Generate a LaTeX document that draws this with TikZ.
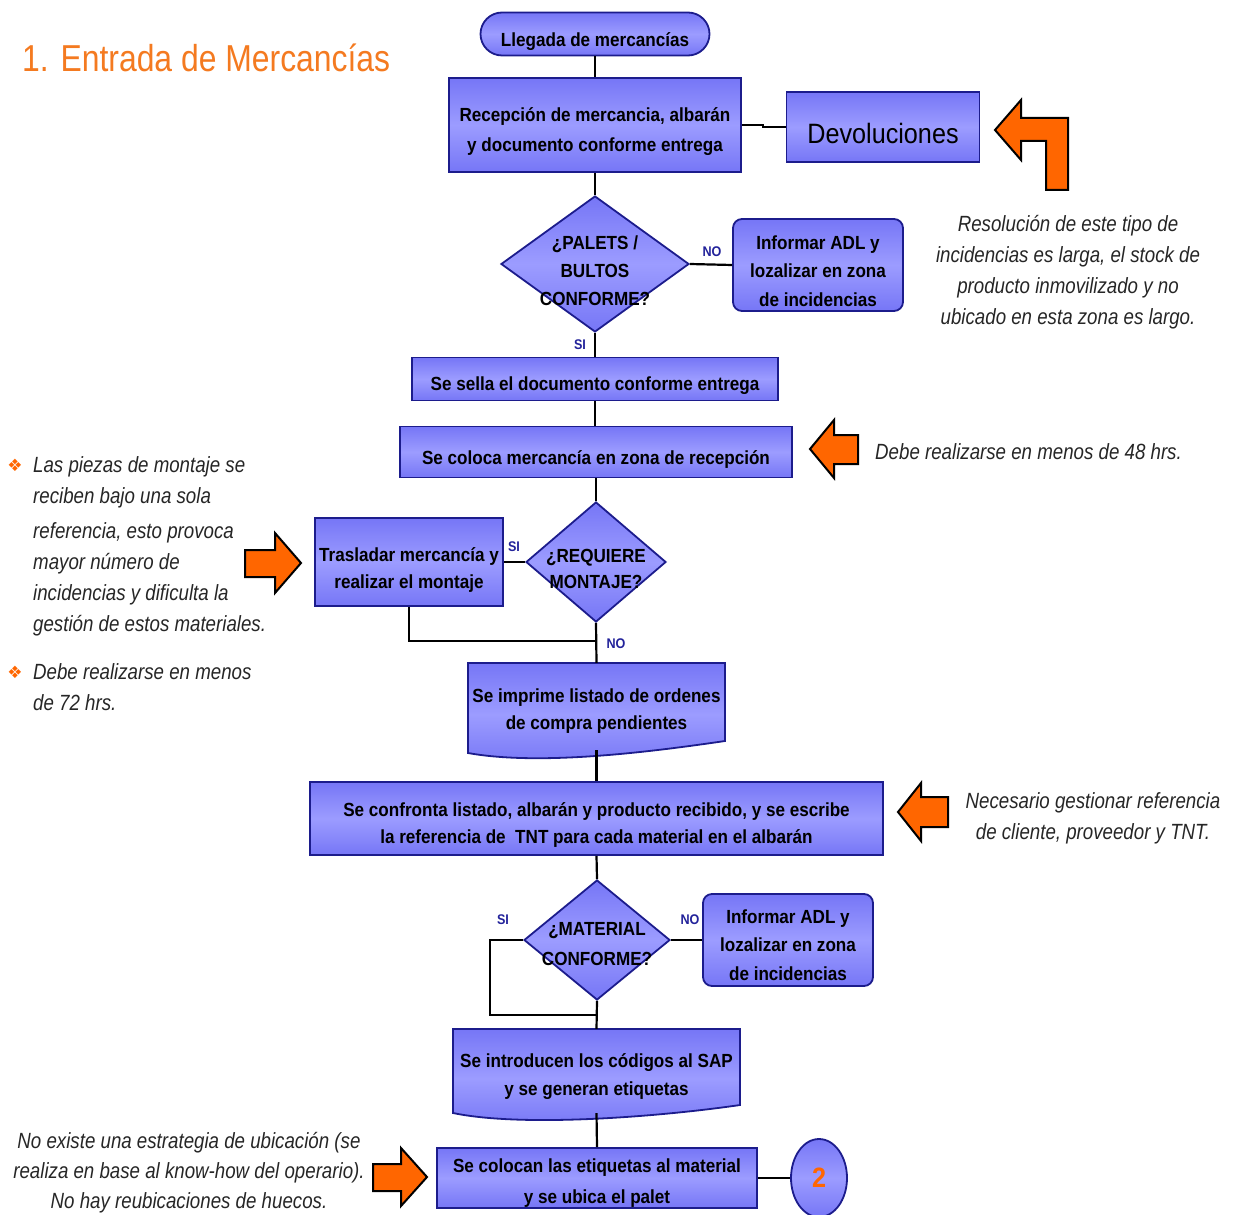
\documentclass[tikz,border=0pt]{standalone}
\usepackage{fontspec}
\setmainfont[FakeStretch=0.85]{Liberation Sans}
\newfontfamily\boxf[FakeStretch=0.9]{Liberation Sans}
\newfontfamily\symfont{DejaVu Sans}
\usetikzlibrary{shapes.geometric}
\definecolor{boxlight}{HTML}{9C9CFF}
\definecolor{boxdark}{HTML}{7676F6}
\definecolor{boxline}{HTML}{1C1C8C}
\definecolor{lblblue}{HTML}{22229A}
\definecolor{orng}{HTML}{FF6600}
\definecolor{titleor}{HTML}{F47A20}
\definecolor{notegray}{HTML}{262626}
\begin{document}
\begin{tikzpicture}[x=1pt,y=-1pt,
  flow/.style={draw=boxline, line width=1.8pt, top color=boxdark, bottom color=boxdark, middle color=boxlight, inner sep=0pt},
  dec/.style={flow, shape=diamond},
  txt/.style={font=\boxf\bfseries\fontsize{19}{29}\selectfont, align=center, inner sep=0pt},
  conn/.style={line width=2.2pt, black},
  lbl/.style={font=\boxf\bfseries\fontsize{14}{14}\selectfont, text=lblblue, inner sep=0pt},
  note/.style={font=\itshape\fontsize{22}{31}\selectfont, text=notegray, inner sep=0pt},
  warn/.style={fill=orng, draw=black, line width=2pt, line join=miter}]
\useasboundingbox (0,0) rectangle (1238,1214);

% title
\node[anchor=west, font=\fontsize{37.5}{37.5}\selectfont, text=titleor, inner sep=0pt] (title) at (22,58) {1. Entrada de Mercancías};

% document shapes
\path[flow] (468,663) -- (725,663) -- (725,741) .. controls (650,752) and (540,766) .. (468,753) -- cycle;
\path[flow] (453,1029) -- (740,1029) -- (740,1105) .. controls (665,1116) and (525,1128) .. (453,1113) -- cycle;

% shapes
\node[flow, minimum width=229, minimum height=43, rounded corners=21.5] (term) at (595,34) {};
\node[flow, minimum width=292, minimum height=94] (rec) at (595,125) {};
\node[flow, minimum width=193, minimum height=70] (dev) at (883,127) {};
\node[dec, minimum width=188, minimum height=136] (d1) at (595,264) {};
\node[flow, minimum width=170, minimum height=92, rounded corners=9] (inf1) at (818,265) {};
\node[flow, minimum width=366, minimum height=43] (sella) at (595,379) {};
\node[flow, minimum width=392, minimum height=51] (col) at (596,452) {};
\node[dec, minimum width=140, minimum height=120] (d2) at (596,562) {};
\node[flow, minimum width=188, minimum height=88] (tras) at (409,562) {};
\node[inner sep=0pt, minimum width=257, minimum height=87] (imp) at (596.5,706.5) {};
\node[flow, minimum width=573, minimum height=73] (conf) at (596.5,818.5) {};
\node[dec, minimum width=146, minimum height=120] (d3) at (597,940) {};
\node[flow, minimum width=170, minimum height=92, rounded corners=9] (inf2) at (788,940) {};
\node[inner sep=0pt, minimum width=287, minimum height=84] (sap) at (596.5,1071) {};
\node[flow, minimum width=320, minimum height=60] (colo) at (597,1178) {};
\node[flow, shape=ellipse, minimum width=56, minimum height=78, font=\boxf\bfseries\fontsize{28}{28}\selectfont, text=orng] (two) at (819,1178) {2};

% texts of the shapes
\node[txt, font=\boxf\bfseries\fontsize{19}{19}\selectfont] (term-t) at (595,42) {Llegada de mercancías};
\node[txt, font=\boxf\bfseries\fontsize{19}{30}\selectfont] (rec-t) at (595,132) {Recepción de mercancia, albarán\\y documento conforme entrega};
\node[txt, font=\boxf\fontsize{28}{28}\selectfont] (dev-t) at (883,133) {Devoluciones};
\node[txt, font=\boxf\bfseries\fontsize{19}{28}\selectfont] (d1-t) at (595,271) {¿PALETS /\\BULTOS\\CONFORME?};
\node[txt, font=\boxf\bfseries\fontsize{19}{28.5}\selectfont] (inf1-t) at (818,271) {Informar ADL y\\lozalizar en zona\\de incidencias};
\node[txt] (sella-t) at (595,386) {Se sella el documento conforme entrega};
\node[txt] (col-t) at (596,460) {Se coloca mercancía en zona de recepción};
\node[txt, font=\boxf\bfseries\fontsize{19}{26}\selectfont] (d2-t) at (596,569) {¿REQUIERE\\MONTAJE?};
\node[txt, font=\boxf\bfseries\fontsize{19}{27}\selectfont] (tras-t) at (409,570) {Trasladar mercancía y\\realizar el montaje};
\node[txt, font=\boxf\bfseries\fontsize{19}{27}\selectfont] (imp-t) at (596.5,711.5) {Se imprime listado de ordenes\\de compra pendientes};
\node[txt, font=\boxf\bfseries\fontsize{19}{27}\selectfont] (conf-t) at (596.5,824.5) {Se confronta listado, albarán y producto recibido, y se escribe\\la referencia de \ TNT para cada material en el albarán};
\node[txt, font=\boxf\bfseries\fontsize{19}{30}\selectfont] (d3-t) at (597,944) {¿MATERIAL\\CONFORME?};
\node[txt, font=\boxf\bfseries\fontsize{19}{28.5}\selectfont] (inf2-t) at (788,945) {Informar ADL y\\lozalizar en zona\\de incidencias};
\node[txt, font=\boxf\bfseries\fontsize{19}{28}\selectfont] (sap-t) at (596.5,1077) {Se introducen los códigos al SAP\\y se generan etiquetas};
\node[txt, font=\boxf\bfseries\fontsize{19}{31}\selectfont] (colo-t) at (597,1183) {Se colocan las etiquetas al material\\y se ubica el palet};

% connectors
\coordinate (j1) at (763,125);
\coordinate (j2) at (409,641);
\coordinate (j3) at (490,940);
\coordinate (j4) at (490,1015);
\coordinate (j5) at (597,1015);
\draw[conn] (term) -- (rec);
\draw[conn] (rec.east) -- (j1) |- (dev.west);
\draw[conn] (rec) -- (d1);
\draw[conn] (d1.east) -- (inf1.west);
\draw[conn] (d1.south) -- (sella.north);
\draw[conn] (sella.south) -- (sella.south |- col.north);
\draw[conn] (col) -- (d2);
\draw[conn] (d2.west) -- (tras.east);
\draw[conn] (tras.south) -- (j2) -- (j2 -| d2.south);
\draw[conn] (d2.south) -- (imp.north);
\draw[conn] (imp.south) -- (conf.north);
\draw[conn] (conf.south) -- (d3.north);
\draw[conn] (d3.east) -- (inf2.west);
\draw[conn] (d3.west) -- (j3) -- (j4) -- (j5);
\draw[conn] (d3.south) -- (sap.north);
\draw[conn] (sap.south) -- (colo.north);
\draw[conn] (colo.east) -- (two.west);

% connector labels
\node[lbl] (no1) at (712,252) {NO};
\node[lbl] (si1) at (580,345) {SI};
\node[lbl] (si2) at (514,547) {SI};
\node[lbl] (no2) at (616,644) {NO};
\node[lbl] (si3) at (503,920) {SI};
\node[lbl] (no3) at (690,920) {NO};

% orange arrows
\draw[warn] (995,130) -- (1021,100) -- (1021,118) -- (1068,118) -- (1068,190) -- (1046,190) -- (1046,141) -- (1021,141) -- (1021,160) -- cycle;
\draw[warn] (810,449) -- (834,420) -- (834,435) -- (858,435) -- (858,464) -- (834,464) -- (834,478) -- cycle;
\draw[warn] (898,812) -- (921,783) -- (921,797) -- (948,797) -- (948,827) -- (921,827) -- (921,841) -- cycle;
\draw[warn] (245,550) -- (275,550) -- (275,533) -- (301,563) -- (275,593) -- (275,577) -- (245,577) -- cycle;
\draw[warn] (373,1164) -- (401,1164) -- (401,1148) -- (427,1177) -- (401,1206) -- (401,1191) -- (373,1191) -- cycle;

% notes
\node[note, align=center] (n1) at (1068,272.5) {Resolución de este tipo de\\incidencias es larga, el stock de\\producto inmovilizado y no\\ubicado en esta zona es largo.};
\node[note, anchor=west] (n2) at (875,452) {Debe realizarse en menos de 48 hrs.};
\node[note, align=center] (n3) at (1093,818) {Necesario gestionar referencia\\de cliente, proveedor y TNT.};
\node[note, align=center, font=\itshape\fontsize{22}{30}\selectfont] (n4) at (189,1173) {No existe una estrategia de ubicación (se\\realiza en base al know-how del operario).\\No hay reubicaciones de huecos.};
\node[note, align=left, anchor=west] (n5) at (33,546.5) {Las piezas de montaje se\\reciben bajo una sola\\[4pt]referencia, esto provoca\\mayor número de\\incidencias y dificulta la\\gestión de estos materiales.};
\node[note, align=left, anchor=west] (n6) at (33,687.5) {Debe realizarse en menos\\de 72 hrs.};
\node[font=\symfont\fontsize{17}{17}\selectfont, text=orng, inner sep=0pt] (b1) at (15,465) {❖};
\node[font=\symfont\fontsize{17}{17}\selectfont, text=orng, inner sep=0pt] (b2) at (15,672) {❖};
\end{tikzpicture}
\end{document}
